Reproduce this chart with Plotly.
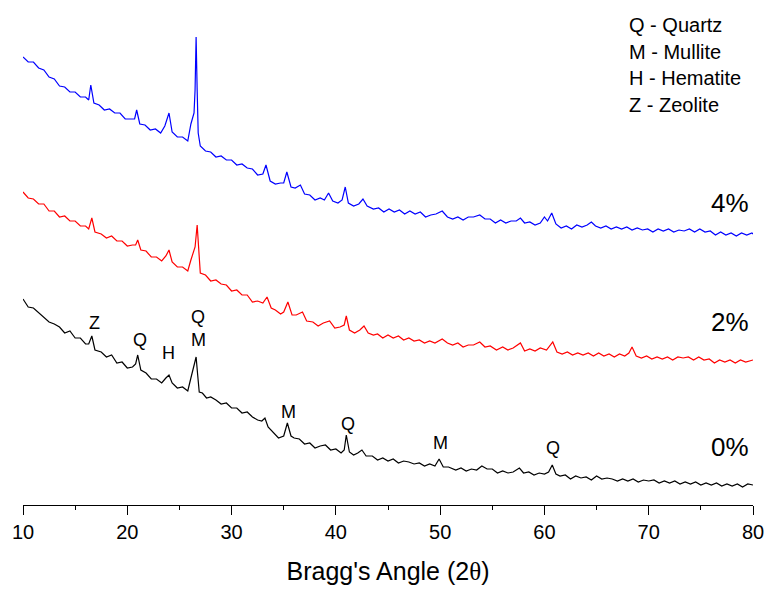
import plotly.graph_objects as go

# ---- data (2theta in degrees, intensity in arbitrary units, offset stacked) ----
black_2theta = [10, 10.5, 11, 11.5, 12, 12.5, 13, 13.5, 14, 14.5, 15, 15.5, 16, 16.3, 16.6, 16.9, 17.5, 18, 18.5, 19, 19.5,
                20, 20.5, 20.8, 21.0, 21.3, 21.8, 22.3, 22.8, 23.3, 23.7, 24.0, 24.3, 24.8, 25.3, 25.8, 26.1, 26.3, 26.45,
                26.6, 26.75, 26.9, 27.2, 27.6, 28, 28.5, 29, 29.5, 30, 30.5, 31, 31.5, 32, 32.5, 32.9, 33.2, 33.5, 34,
                34.5, 35, 35.35, 35.7, 36, 36.5, 37, 37.5, 38, 38.5, 39, 39.5, 40, 40.5, 40.8, 41.0, 41.3, 41.7, 42.1,
                42.5, 42.9, 43.5, 44, 44.5, 45, 45.5, 46, 46.5, 47, 47.5, 48, 48.5, 49, 49.5, 49.9, 50.3, 50.8, 51.5,
                52, 52.5, 53, 53.5, 54, 54.5, 55, 55.5, 56, 56.5, 57, 57.6, 58, 58.5, 59, 59.5, 60, 60.4, 60.75, 61.1,
                61.5, 62, 62.5, 63, 63.5, 64, 64.5, 65, 65.5, 66, 66.5, 67, 67.5, 68, 68.5, 69, 69.5, 70, 70.5, 71,
                71.5, 72, 72.5, 73, 73.5, 74, 74.5, 75, 75.5, 76, 76.5, 77, 77.5, 78, 78.5, 79, 79.5, 80]
black_int = [206, 198, 197, 192, 188, 183, 181, 178, 172, 174, 167, 167, 161, 161, 169, 155, 153, 148, 150, 142, 143,
             137, 138, 141, 150, 135, 132, 126, 126, 122, 127, 130, 122, 117, 118, 114, 127, 135, 140,
             148, 130, 113, 112, 107, 108, 105, 101, 102, 97, 97, 92, 93, 88, 85, 84, 87, 78, 73,
             67, 69, 82, 69, 67, 66, 61, 62, 57, 59, 60, 55, 56, 52, 55, 70, 53, 50, 52,
             55, 49, 49, 45, 47, 44, 46, 42, 44, 43, 41, 42, 39, 41, 39, 46, 38, 38, 35,
             37, 34, 36, 35, 39, 36, 36, 32, 34, 32, 33, 37, 32, 33, 30, 32, 31, 33, 40, 31,
             29, 30, 26, 29, 27, 28, 25, 29, 26, 27, 26, 24, 26, 24, 26, 23, 25, 24, 25, 22,
             24, 22, 24, 21, 23, 21, 23, 20, 22, 20, 22, 19, 21, 19, 21, 18, 21, 20]

red_2theta = [10, 10.5, 11, 11.5, 12, 12.5, 13, 13.5, 14, 14.5, 15, 15.5, 16, 16.3, 16.6, 16.9, 17.5, 18, 18.5, 19, 19.5,
              20, 20.5, 20.8, 21.0, 21.3, 21.8, 22.3, 22.8, 23.3, 23.7, 24.0, 24.3, 24.8, 25.3, 25.8, 26.1, 26.3, 26.5,
              26.7, 26.85, 27.0, 27.5, 28, 28.5, 29, 29.5, 30, 30.5, 31, 31.5, 32, 32.5, 33, 33.4, 33.8, 34.2, 34.7,
              35.0, 35.4, 35.8, 36.2, 36.8, 37.2, 37.8, 38.3, 38.8, 39.4, 39.9, 40.4, 40.8, 41.0, 41.3, 41.8, 42.3,
              42.7, 43.1, 43.6, 44, 44.5, 45, 45.5, 46, 46.5, 47, 47.5, 48, 48.5, 49, 49.5, 50.2, 50.7, 51.2, 51.7,
              52.2, 52.7, 53.2, 53.8, 54.3, 54.8, 55.4, 56, 56.5, 57, 57.7, 58.1, 58.6, 59.1, 59.6, 60.2, 60.8, 61.2,
              61.7, 62.2, 62.7, 63.2, 63.7, 64.2, 64.7, 65.2, 65.7, 66.2, 66.7, 67.2, 67.7, 68.1, 68.4, 68.8, 69.3,
              69.8, 70.3, 70.8, 71.3, 71.8, 72.3, 72.8, 73.3, 73.8, 74.3, 74.8, 75.3, 75.8, 76.3, 76.8, 77.3, 77.8,
              78.3, 78.8, 79.3, 79.8, 80]
red_int = [313, 307, 306, 301, 301, 294, 294, 288, 289, 284, 284, 279, 279, 276, 287, 273, 271, 267, 269, 264, 264,
           259, 260, 260, 265, 255, 254, 248, 248, 244, 249, 255, 243, 238, 238, 234, 245, 252, 258,
           280, 255, 232, 230, 224, 225, 221, 220, 214, 215, 210, 210, 203, 204, 202, 208, 197, 195, 191,
           193, 203, 190, 190, 193, 184, 183, 179, 182, 184, 177, 178, 180, 189, 175, 172, 175,
           179, 172, 170, 171, 167, 170, 167, 169, 165, 167, 164, 165, 162, 164, 162, 166, 162, 160, 162,
           158, 160, 160, 163, 158, 159, 155, 158, 155, 157, 162, 154, 156, 154, 157, 155, 163, 153,
           151, 153, 150, 152, 150, 152, 149, 152, 149, 151, 148, 151, 149, 152, 158, 149, 147,
           149, 146, 148, 146, 148, 145, 148, 147, 148, 145, 148, 145, 146, 142, 145, 143, 145,
           142, 145, 143, 145, 145]

blue_2theta = [10, 10.5, 11, 11.5, 12, 12.5, 13, 13.5, 14, 14.5, 15, 15.5, 16, 16.3, 16.5, 16.8, 17.3, 17.8, 18.3, 18.8,
               19.3, 19.8, 20.3, 20.7, 20.9, 21.2, 21.7, 22.2, 22.7, 23.2, 23.6, 24.0, 24.3, 24.8, 25.3, 25.8, 26.1,
               26.4, 26.5, 26.6, 26.7, 26.8, 27.0, 27.5, 28, 28.5, 29, 29.5, 30, 30.5, 31, 31.5, 32, 32.5, 33.0, 33.3,
               33.7, 34.2, 34.7, 35.0, 35.3, 35.7, 36.1, 36.6, 37.0, 37.5, 38.0, 38.5, 38.9, 39.3, 39.7, 40.2, 40.6,
               40.9, 41.2, 41.7, 42.2, 42.6, 43.0, 43.6, 44.1, 44.6, 45.1, 45.6, 46.1, 46.6, 47.1, 47.6, 48.1, 48.6,
               49.1, 49.6, 50.2, 50.7, 51.2, 51.7, 52.2, 52.7, 53.2, 53.8, 54.3, 54.8, 55.3, 55.8, 56.3, 56.8, 57.3,
               57.7, 58.1, 58.6, 59.1, 59.6, 60.0, 60.3, 60.7, 61.1, 61.6, 62.1, 62.6, 63.1, 63.6, 64.1, 64.5, 64.9,
               65.4, 65.9, 66.4, 66.9, 67.4, 67.9, 68.4, 68.9, 69.4, 69.9, 70.4, 70.9, 71.4, 71.9, 72.4, 72.9, 73.4,
               73.9, 74.4, 74.9, 75.4, 75.9, 76.4, 76.9, 77.4, 77.9, 78.4, 78.9, 79.4, 79.9, 80]
blue_int = [448, 443, 443, 437, 435, 428, 426, 419, 418, 413, 413, 408, 408, 405, 420, 402, 400, 395, 396, 392,
            392, 386, 386, 386, 395, 381, 380, 375, 376, 372, 379, 392, 373, 368, 368, 364, 381,
            392, 415, 468, 415, 372, 359, 354, 353, 348, 349, 345, 345, 340, 341, 337, 336, 330, 331, 340,
            324, 321, 322, 322, 333, 318, 317, 320, 311, 310, 305, 307, 305, 312, 304, 302, 305,
            318, 302, 299, 301, 306, 299, 296, 297, 293, 296, 293, 295, 291, 294, 291, 293, 288,
            290, 291, 294, 288, 286, 288, 285, 288, 288, 290, 286, 286, 282, 285, 282, 284, 284,
            287, 282, 283, 280, 282, 288, 284, 292, 281, 277, 279, 276, 280, 278, 280, 283, 279,
            277, 279, 276, 278, 276, 278, 275, 277, 275, 276, 273, 276, 274, 276, 273, 275, 274,
            276, 273, 276, 273, 274, 270, 273, 270, 272, 269, 272, 270, 272, 271]

assert len(black_2theta) == len(black_int)
assert len(red_2theta) == len(red_int)
assert len(blue_2theta) == len(blue_int)

sample_labels = ["0%", "2%", "4%"]
label_levels = [58, 183, 302]  # text anchor heights for the sample labels

phase_marks = ["Z", "Q", "H", "Q", "M", "M", "Q", "M", "Q"]
phase_2theta = [16.84, 21.22, 23.99, 26.8, 26.8, 35.5, 41.16, 50.08, 60.8]
phase_levels = [182, 165, 152, 188, 165, 93, 81, 62, 57]

phase_key = ["Q - Quartz", "M - Mullite", "H - Hematite", "Z - Zeolite"]

FONT = "Liberation Sans, Arial, sans-serif"
W, H = 767, 590
ML, MR, MT, MB = 23, 14, 0, 85
PW, PH = W - ML - MR, H - MT - MB   # 730 x 505

fig = go.Figure()
for xs, ys, col in [(black_2theta, black_int, "#000000"),
                    (red_2theta, red_int, "#ff0000"),
                    (blue_2theta, blue_int, "#0000ff")]:
    fig.add_trace(go.Scatter(x=xs, y=ys, mode="lines", line=dict(color=col, width=1.2),
                             showlegend=False, hoverinfo="skip"))

annotations = []
for t, lv in zip(sample_labels, label_levels):
    annotations.append(dict(x=79.85, y=lv, xref="x", yref="y", text=t, showarrow=False,
                            xanchor="right", yanchor="middle",
                            font=dict(family=FONT, size=26, color="#000000")))
for t, px, lv in zip(phase_marks, phase_2theta, phase_levels):
    annotations.append(dict(x=px, y=lv, xref="x", yref="y", text=t, showarrow=False,
                            xanchor="center", yanchor="middle",
                            font=dict(family=FONT, size=18, color="#000000")))
key_px_x = 627
key_px_y = [25, 52, 78, 105]
for t, ky in zip(phase_key, key_px_y):
    annotations.append(dict(x=(key_px_x - ML) / PW, y=1 - (ky - MT) / PH, xref="paper", yref="paper",
                            text=t, showarrow=False, xanchor="left", yanchor="middle",
                            font=dict(family=FONT, size=20, color="#000000")))

fig.update_layout(
    width=W, height=H,
    margin=dict(l=ML, r=MR, t=MT, b=MB, autoexpand=False),
    plot_bgcolor="white", paper_bgcolor="white",
    annotations=annotations,
    hovermode=False,
    xaxis=dict(range=[10, 80], showgrid=False, zeroline=False, showline=True, linecolor="black", linewidth=1.3,
               automargin=False,
               ticks="outside", ticklen=9, tickwidth=1.3, tickcolor="black", dtick=10, tick0=10,
               minor=dict(ticks="outside", ticklen=4, tickwidth=1.3, tickcolor="black", dtick=5),
               tickfont=dict(family=FONT, size=20, color="black"),
               title=dict(text="Bragg's Angle (2<span style=\"font-family:Liberation Serif, serif\">θ</span>)",
                          font=dict(family=FONT, size=25, color="black"), standoff=20)),
    yaxis=dict(range=[0, PH], visible=False),
)

# remove the browser's default 8px page margin so the figure fills the window exactly
fig.write_html("out.html", config={"displayModeBar": False},
               post_script="document.body.style.margin='0';document.body.style.overflow='hidden';")
